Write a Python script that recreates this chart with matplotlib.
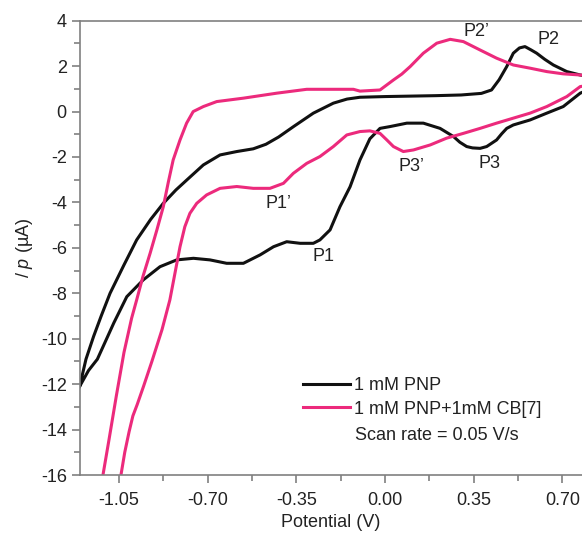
import matplotlib
matplotlib.use("Agg")
import matplotlib.pyplot as plt
from matplotlib.ticker import MultipleLocator

# 1 mM PNP (black loop)
pnp_v = [-1.205, -1.18, -1.15, -1.12, -1.085, -1.03, -0.98, -0.925, -0.875, -0.825,
         -0.782, -0.717, -0.651, -0.585, -0.52, -0.47, -0.42, -0.361, -0.283, -0.204,
         -0.15, -0.099, 0.0, 0.1, 0.2, 0.3, 0.38, 0.42, 0.45, 0.48,
         0.506, 0.53, 0.552, 0.575, 0.598, 0.63, 0.664, 0.717, 0.77, 0.80,
         0.81, 0.80,
         0.77, 0.703, 0.638, 0.572, 0.506, 0.48, 0.46, 0.44, 0.401, 0.375,
         0.345, 0.322, 0.295, 0.27, 0.217, 0.151, 0.086, 0.02, -0.02, -0.06,
         -0.099, -0.138, -0.178, -0.217, -0.257, -0.283, -0.335, -0.388, -0.44, -0.493,
         -0.559, -0.625, -0.691, -0.756, -0.822, -0.888, -0.954, -1.019, -1.07, -1.135,
         -1.17, -1.205]
pnp_i = [-12.1, -10.9, -9.9, -9.0, -8.0, -6.75, -5.65, -4.75, -4.04, -3.45,
         -3.01, -2.35, -1.91, -1.76, -1.64, -1.44, -1.12, -0.66, -0.07, 0.37,
         0.55, 0.63, 0.66, 0.68, 0.70, 0.73, 0.80, 0.95, 1.4, 1.98,
         2.57, 2.80, 2.86, 2.72, 2.57, 2.30, 2.05, 1.76, 1.61, 1.55,
         1.2, 0.95,
         0.81, 0.22, -0.07, -0.37, -0.59, -0.74, -0.98, -1.25, -1.54, -1.62,
         -1.60, -1.54, -1.35, -1.10, -0.74, -0.51, -0.51, -0.66, -0.74, -1.2,
         -2.13, -3.31, -4.19, -5.21, -5.65, -5.80, -5.80, -5.73, -5.95, -6.31,
         -6.68, -6.68, -6.53, -6.46, -6.53, -6.83, -7.41, -8.15, -9.3, -10.9,
         -11.4, -12.1]

# 1 mM PNP + 1 mM CB[7] (pink loop)
cb7_v = [-1.125, -1.113, -1.09, -1.06, -1.03, -1.0, -0.98, -0.955, -0.927, -0.90,
         -0.875, -0.855, -0.836, -0.809, -0.783, -0.757, -0.717, -0.664, -0.559, -0.427,
         -0.309, -0.204, -0.125, -0.099, -0.02, 0.033, 0.066, 0.099, 0.151, 0.204,
         0.257, 0.309, 0.375, 0.44, 0.506, 0.572, 0.638, 0.703, 0.77, 0.80,
         0.81, 0.80,
         0.77, 0.717, 0.638, 0.572, 0.506, 0.44, 0.375, 0.309, 0.243, 0.178,
         0.112, 0.072, 0.033, 0.007, -0.02, -0.06, -0.099, -0.151, -0.204, -0.257,
         -0.309, -0.362, -0.401, -0.454, -0.52, -0.585, -0.651, -0.704, -0.743, -0.77,
         -0.79, -0.809, -0.829, -0.849, -0.88, -0.92, -0.953, -0.978, -0.995, -1.01,
         -1.027, -1.045, -1.055]
cb7_i = [-17.0, -16.0, -14.5, -12.5, -10.6, -9.1, -8.29, -7.25, -6.24, -5.2,
         -4.19, -3.1, -2.13, -1.25, -0.51, 0.0, 0.22, 0.44, 0.59, 0.81,
         0.98, 0.98, 0.98, 0.90, 0.95, 1.39, 1.65, 1.98, 2.57, 3.01,
         3.18, 3.08, 2.71, 2.35, 2.05, 1.91, 1.76, 1.66, 1.61, 1.58,
         1.35, 1.15,
         1.10, 0.66, 0.22, -0.07, -0.29, -0.51, -0.74, -0.96, -1.17, -1.47,
         -1.69, -1.76, -1.54, -1.25, -0.96, -0.85, -0.88, -1.03, -1.54, -1.98,
         -2.28, -2.72, -3.16, -3.38, -3.38, -3.30, -3.38, -3.67, -4.04, -4.48,
         -5.07, -5.95, -7.12, -8.29, -9.6, -11.0, -12.1, -12.9, -13.4, -14.1,
         -15.0, -16.2, -17.0]

peak_labels = ["P1", "P1\u2019", "P2", "P2\u2019", "P3", "P3\u2019"]
peak_v = [-0.243, -0.421, 0.645, 0.362, 0.414, 0.105]
peak_i = [-6.39, -4.04, 3.18, 3.52, -2.28, -2.43]

x_ticks = [-1.05, -0.70, -0.35, 0.00, 0.35, 0.70]

plt.rcParams['font.family'] = ['Liberation Sans', 'DejaVu Sans']
plt.rcParams['axes.unicode_minus'] = False
plt.rcParams['mathtext.fontset'] = 'custom'
plt.rcParams['mathtext.it'] = 'Liberation Sans:italic'
plt.rcParams['mathtext.rm'] = 'Liberation Sans'

fig = plt.figure(figsize=(5.82, 5.40), dpi=100)
ax = fig.add_axes([80 / 582, 65 / 540, 502 / 582, 454.3 / 540])

black = '#111111'
pink = '#ec2a7c'
ax.plot(pnp_v, pnp_i, color=black, lw=2.2, label='1 mM PNP', solid_joinstyle='round')
ax.plot(cb7_v, cb7_i, color=pink, lw=2.2, label='1 mM PNP+1mM CB[7]', solid_joinstyle='round')

for lab, v, i in zip(peak_labels, peak_v, peak_i):
    ax.text(v, i, lab, fontsize=13, color='#222222', ha='center', va='center')

ax.set_xlim(-1.2036, 0.777)
ax.set_ylim(-16, 4)
ax.set_xticks(x_ticks)
ax.set_xticklabels(['%.2f' % t for t in x_ticks])
ax.xaxis.set_minor_locator(MultipleLocator(0.175))
ax.yaxis.set_major_locator(MultipleLocator(2))
ax.yaxis.set_minor_locator(MultipleLocator(1))

gray = '#808080'
for s in ['left', 'bottom', 'top']:
    ax.spines[s].set_color(gray)
    ax.spines[s].set_linewidth(1.2)
ax.spines['right'].set_visible(False)
ax.tick_params(which='both', direction='out', color=gray, width=1.2, labelsize=13,
               labelcolor='#222222')
ax.tick_params(which='major', length=6)
ax.tick_params(which='minor', length=4)
ax.tick_params(axis='x', pad=6)

ax.set_xlabel('Potential (V)', fontsize=13, color='#222222', labelpad=4)
ax.set_ylabel('$/\\ p$ (\u00b5A)', fontsize=13, color='#222222', labelpad=4)

leg = ax.legend(loc='lower left', bbox_to_anchor=(0.43, 0.11), frameon=False,
                fontsize=13, handlelength=2.6, handletextpad=0.2, labelspacing=0.35,
                borderaxespad=0)
for t in leg.get_texts():
    t.set_color('#222222')
ax.annotate('Scan rate = 0.05 V/s', xy=(355, 540 - 435), xycoords='figure pixels',
            fontsize=13, color='#222222', ha='left', va='center')

fig.savefig('out.png', dpi=100)
